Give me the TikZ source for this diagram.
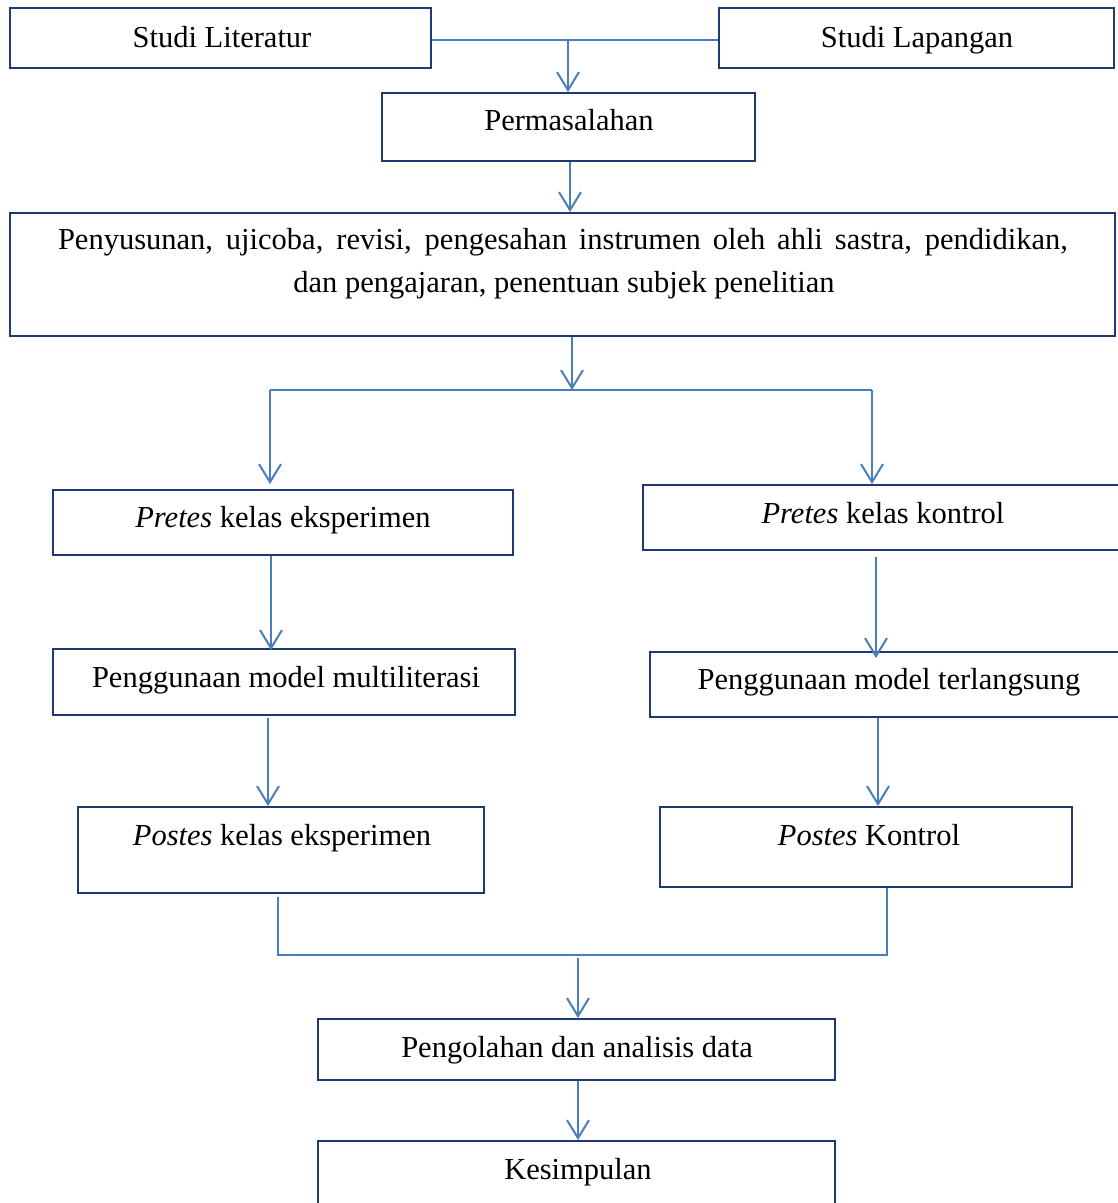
\documentclass[tikz,border=0pt]{standalone}
\usepackage{fontspec}
\setmainfont{Liberation Serif}
\usetikzlibrary{arrows.meta}
\definecolor{boxc}{HTML}{1F3A70}
\definecolor{linec}{HTML}{4A7EBB}
\tikzset{
  box/.style={draw=boxc, line width=2pt, rectangle, inner sep=0pt},
  txt/.style={inner sep=0pt, anchor=base, font=\fontsize{30.5}{42}\selectfont, text=black},
  conn/.style={draw=linec, line width=2pt},
  arr/.style={conn, -{Straight Barb[length=18pt,width=22pt,line width=2pt]}},
}
\begin{document}
\begin{tikzpicture}[x=1pt,y=-1pt]
\useasboundingbox (0,0) rectangle (1118,1203);
\clip (0,0) rectangle (1118,1203);
% boxes
\node[box, minimum width=421pt, minimum height=60pt] (lit) at (220.5,38) {};
\node[txt] (litT) at (222,47) {Studi Literatur};
\node[box, minimum width=395pt, minimum height=60pt] (lap) at (916.5,38) {};
\node[txt] (lapT) at (917,47) {Studi Lapangan};
\node[box, minimum width=373pt, minimum height=68pt] (per) at (568.5,127) {};
\node[txt] (perT) at (569,130) {Permasalahan};
\node[box, minimum width=1105pt, minimum height=123pt] (pen) at (562.5,274.5) {};
\node[txt] (penT1) at (563,249) {\makebox[1010pt][s]{Penyusunan, ujicoba, revisi, pengesahan instrumen oleh ahli sastra, pendidikan,}};
\node[txt] (penT2) at (564,292) {dan pengajaran, penentuan subjek penelitian};
\node[box, minimum width=460pt, minimum height=65pt] (pre) at (283,522.5) {};
\node[txt] (preT) at (283,527) {\textit{Pretes} kelas eksperimen};
\node[box, minimum width=490pt, minimum height=65pt] (prk) at (888,517.5) {};
\node[txt] (prkT) at (883,523) {\textit{Pretes} kelas kontrol};
\node[box, minimum width=462pt, minimum height=66pt] (mul) at (284,682) {};
\node[txt] (mulT) at (286,687) {Penggunaan model multiliterasi};
\node[box, minimum width=480pt, minimum height=65pt] (ter) at (890,684.5) {};
\node[txt] (terT) at (889,689) {Penggunaan model terlangsung};
\node[box, minimum width=406pt, minimum height=86pt] (poe) at (281,850) {};
\node[txt] (poeT) at (282,845) {\textit{Postes} kelas eksperimen};
\node[box, minimum width=412pt, minimum height=80pt] (pok) at (866,847) {};
\node[txt] (pokT) at (869,845) {\textit{Postes} Kontrol};
\node[box, minimum width=517pt, minimum height=61pt] (ana) at (576.5,1049.5) {};
\node[txt] (anaT) at (577,1057) {Pengolahan dan analisis data};
\node[box, minimum width=517pt, minimum height=80pt] (kes) at (576.5,1181) {};
\node[txt] (kesT) at (578,1179) {Kesimpulan};
% junction coordinates
\coordinate (j1) at (568,40);
\coordinate (j2) at (572,390);
\coordinate (j2l) at (270,390);
\coordinate (j2r) at (872,390);
\coordinate (j3) at (578,955);
\coordinate (j3l) at (278,955);
\coordinate (j3r) at (887,955);
% connectors
\draw[conn] (lit.east |- j1) -- (lap.west |- j1);
\draw[arr] (j1) -- (j1 |- per.north);
\draw[arr] (per.south -| 570,0) -- (570,0 |- pen.north);
\draw[arr] (pen.south -| j2) -- (j2);
\draw[conn] (j2l) -- (j2r);
\draw[arr] (j2l) -- (270,484);
\draw[arr] (j2r) -- (872,484);
\draw[arr] (271,0 |- pre.south) -- (271,650);
\draw[arr] (876,557) -- (876,658);
\draw[arr] (268,718) -- (268,0 |- poe.north);
\draw[arr] (878,0 |- ter.south) -- (878,0 |- pok.north);
\draw[conn] (278,897) -- (j3l) -- (j3r) -- (887,0 |- pok.south);
\draw[arr] (578,958) -- (578,0 |- ana.north);
\draw[arr] (578,0 |- ana.south) -- (578,0 |- kes.north);
\end{tikzpicture}
\end{document}
